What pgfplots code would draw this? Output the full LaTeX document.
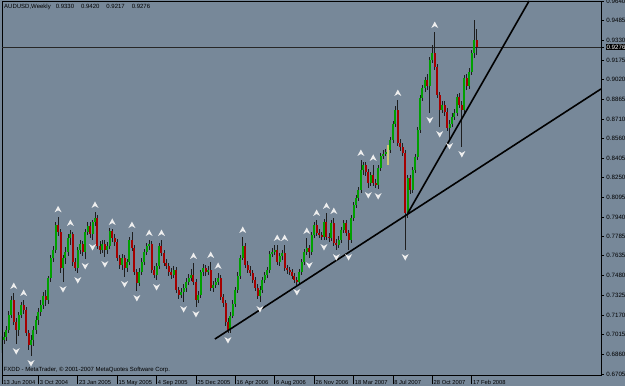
\documentclass[border=0pt]{standalone}
\usepackage{pgfplots}
\usepackage{pgfplotstable}
\pgfplotsset{compat=1.18}
\usepackage{fontspec}
\setmainfont{Liberation Sans}
\definecolor{bg}{RGB}{119,136,153}
\definecolor{cgreen}{RGB}{0,160,0}
\definecolor{cred}{RGB}{165,0,0}
\definecolor{wick}{RGB}{30,30,30}
\definecolor{frac}{RGB}{238,238,238}
\definecolor{ylw}{RGB}{205,200,120}
\pgfdeclareplotmark{fup}{%
  \pgfpathmoveto{\pgfpoint{0bp}{3.5bp}}%
  \pgfpathlineto{\pgfpoint{3.5bp}{-3bp}}%
  \pgfpathlineto{\pgfpoint{0bp}{-1bp}}%
  \pgfpathlineto{\pgfpoint{-3.5bp}{-3bp}}%
  \pgfpathclose\pgfusepathqfill}
\pgfdeclareplotmark{fdown}{%
  \pgfpathmoveto{\pgfpoint{0bp}{-3.5bp}}%
  \pgfpathlineto{\pgfpoint{3.5bp}{3bp}}%
  \pgfpathlineto{\pgfpoint{0bp}{1bp}}%
  \pgfpathlineto{\pgfpoint{-3.5bp}{3bp}}%
  \pgfpathclose\pgfusepathqfill}
\pgfplotstableread{
i o h l c
1 0.6893 0.7004 0.6870 0.6972
2 0.6972 0.7035 0.6941 0.6996
3 0.6996 0.7082 0.6964 0.7051
4 0.7051 0.7200 0.7027 0.7169
5 0.7169 0.7318 0.7145 0.7287
6 0.7287 0.7342 0.7090 0.7114
7 0.7114 0.7145 0.6941 0.7051
8 0.7051 0.7192 0.7004 0.7169
9 0.7169 0.7271 0.7145 0.7248
10 0.7248 0.7287 0.7177 0.7208
11 0.7208 0.7232 0.7004 0.7027
12 0.7027 0.7051 0.6893 0.6933
13 0.6933 0.7011 0.6846 0.6972
14 0.6972 0.7082 0.6925 0.7051
15 0.7051 0.7161 0.7019 0.7130
16 0.7130 0.7224 0.7090 0.7192
17 0.7192 0.7287 0.7161 0.7248
18 0.7248 0.7350 0.7216 0.7318
19 0.7318 0.7366 0.7240 0.7287
20 0.7287 0.7476 0.7255 0.7460
21 0.7460 0.7641 0.7429 0.7617
22 0.7617 0.7712 0.7586 0.7680
23 0.7680 0.7901 0.7657 0.7877
24 0.7877 0.7940 0.7791 0.7822
25 0.7822 0.7846 0.7499 0.7539
26 0.7539 0.7641 0.7429 0.7617
27 0.7617 0.7704 0.7570 0.7665
28 0.7665 0.7806 0.7633 0.7775
29 0.7775 0.7838 0.7720 0.7806
30 0.7806 0.7822 0.7555 0.7586
31 0.7586 0.7617 0.7515 0.7539
32 0.7539 0.7704 0.7499 0.7680
33 0.7680 0.7759 0.7649 0.7728
34 0.7728 0.7751 0.7633 0.7665
35 0.7665 0.7846 0.7610 0.7822
36 0.7822 0.7901 0.7798 0.7869
37 0.7869 0.7901 0.7775 0.7806
38 0.7806 0.7917 0.7759 0.7901
39 0.7901 0.7980 0.7869 0.7932
40 0.7932 0.7956 0.7688 0.7712
41 0.7712 0.7751 0.7649 0.7680
42 0.7680 0.7759 0.7657 0.7728
43 0.7728 0.7759 0.7625 0.7680
44 0.7680 0.7743 0.7649 0.7712
45 0.7712 0.7854 0.7688 0.7830
46 0.7830 0.7846 0.7743 0.7775
47 0.7775 0.7806 0.7712 0.7743
48 0.7743 0.7767 0.7594 0.7617
49 0.7617 0.7641 0.7531 0.7562
50 0.7562 0.7649 0.7523 0.7617
51 0.7617 0.7641 0.7468 0.7539
52 0.7539 0.7610 0.7507 0.7586
53 0.7586 0.7783 0.7562 0.7759
54 0.7759 0.7822 0.7673 0.7696
55 0.7696 0.7720 0.7484 0.7507
56 0.7507 0.7531 0.7358 0.7421
57 0.7421 0.7539 0.7397 0.7507
58 0.7507 0.7617 0.7484 0.7586
59 0.7586 0.7688 0.7562 0.7665
60 0.7665 0.7736 0.7641 0.7712
61 0.7712 0.7759 0.7680 0.7728
62 0.7728 0.7751 0.7499 0.7523
63 0.7523 0.7554 0.7460 0.7484
64 0.7484 0.7578 0.7444 0.7554
65 0.7554 0.7736 0.7531 0.7712
66 0.7712 0.7759 0.7633 0.7657
67 0.7657 0.7680 0.7554 0.7578
68 0.7578 0.7610 0.7531 0.7554
69 0.7554 0.7578 0.7476 0.7507
70 0.7507 0.7539 0.7452 0.7484
71 0.7484 0.7554 0.7460 0.7523
72 0.7523 0.7547 0.7342 0.7366
73 0.7366 0.7389 0.7295 0.7326
74 0.7326 0.7381 0.7303 0.7350
75 0.7350 0.7413 0.7271 0.7381
76 0.7381 0.7460 0.7350 0.7429
77 0.7429 0.7492 0.7405 0.7460
78 0.7460 0.7531 0.7436 0.7484
79 0.7484 0.7578 0.7405 0.7429
80 0.7429 0.7452 0.7232 0.7287
81 0.7287 0.7358 0.7263 0.7326
82 0.7326 0.7523 0.7303 0.7507
83 0.7507 0.7570 0.7476 0.7539
84 0.7539 0.7562 0.7476 0.7507
85 0.7507 0.7554 0.7484 0.7523
86 0.7523 0.7586 0.7358 0.7381
87 0.7381 0.7436 0.7350 0.7405
88 0.7405 0.7460 0.7381 0.7429
89 0.7429 0.7499 0.7405 0.7460
90 0.7460 0.7484 0.7287 0.7311
91 0.7311 0.7334 0.7232 0.7263
92 0.7263 0.7287 0.7082 0.7114
93 0.7114 0.7145 0.7027 0.7051
94 0.7051 0.7192 0.7027 0.7161
95 0.7161 0.7287 0.7145 0.7255
96 0.7255 0.7389 0.7232 0.7366
97 0.7366 0.7507 0.7342 0.7476
98 0.7476 0.7641 0.7452 0.7617
99 0.7617 0.7783 0.7602 0.7712
100 0.7712 0.7736 0.7539 0.7562
101 0.7562 0.7594 0.7499 0.7523
102 0.7523 0.7554 0.7476 0.7499
103 0.7499 0.7523 0.7421 0.7444
104 0.7444 0.7468 0.7358 0.7381
105 0.7381 0.7413 0.7295 0.7318
106 0.7318 0.7397 0.7271 0.7366
107 0.7366 0.7468 0.7342 0.7444
108 0.7444 0.7507 0.7421 0.7484
109 0.7484 0.7547 0.7460 0.7523
110 0.7523 0.7673 0.7499 0.7649
111 0.7649 0.7696 0.7625 0.7665
112 0.7665 0.7720 0.7641 0.7680
113 0.7680 0.7720 0.7562 0.7586
114 0.7586 0.7657 0.7555 0.7633
115 0.7633 0.7680 0.7602 0.7657
116 0.7657 0.7720 0.7515 0.7539
117 0.7539 0.7562 0.7492 0.7523
118 0.7523 0.7547 0.7484 0.7507
119 0.7507 0.7531 0.7452 0.7476
120 0.7476 0.7499 0.7421 0.7444
121 0.7444 0.7468 0.7405 0.7429
122 0.7429 0.7531 0.7413 0.7507
123 0.7507 0.7610 0.7484 0.7586
124 0.7586 0.7688 0.7562 0.7665
125 0.7665 0.7775 0.7641 0.7696
126 0.7696 0.7720 0.7617 0.7665
127 0.7665 0.7822 0.7641 0.7798
128 0.7798 0.7901 0.7775 0.7877
129 0.7877 0.7917 0.7791 0.7814
130 0.7814 0.7846 0.7775 0.7798
131 0.7798 0.7822 0.7759 0.7783
132 0.7783 0.7924 0.7759 0.7901
133 0.7901 0.7972 0.7759 0.7783
134 0.7783 0.7814 0.7743 0.7775
135 0.7775 0.7917 0.7751 0.7893
136 0.7893 0.7932 0.7712 0.7736
137 0.7736 0.7767 0.7680 0.7720
138 0.7720 0.7791 0.7696 0.7759
139 0.7759 0.7861 0.7736 0.7838
140 0.7838 0.7917 0.7814 0.7893
141 0.7893 0.7917 0.7791 0.7814
142 0.7814 0.7838 0.7680 0.7759
143 0.7759 0.7956 0.7736 0.7932
144 0.7932 0.8058 0.7909 0.8035
145 0.8035 0.8113 0.8011 0.8090
146 0.8090 0.8176 0.8066 0.8152
147 0.8152 0.8389 0.8129 0.8310
148 0.8310 0.8373 0.8271 0.8349
149 0.8349 0.8373 0.8263 0.8294
150 0.8294 0.8318 0.8168 0.8208
151 0.8208 0.8294 0.8184 0.8271
152 0.8271 0.8349 0.8184 0.8208
153 0.8208 0.8239 0.8168 0.8192
154 0.8192 0.8349 0.8160 0.8326
155 0.8326 0.8444 0.8302 0.8420
156 0.8420 0.8467 0.8397 0.8436
157 0.8436 0.8475 0.8420 0.8452
158 0.8452 0.8507 0.8349 0.8467
159 0.8467 0.8570 0.8444 0.8546
160 0.8546 0.8696 0.8523 0.8672
161 0.8672 0.8814 0.8648 0.8782
162 0.8782 0.8861 0.8499 0.8523
163 0.8523 0.8554 0.8460 0.8491
164 0.8491 0.8523 0.8420 0.8444
165 0.8444 0.8467 0.7680 0.7972
166 0.7972 0.8271 0.7932 0.8247
167 0.8247 0.8271 0.8121 0.8152
168 0.8152 0.8334 0.8129 0.8310
169 0.8310 0.8436 0.8286 0.8412
170 0.8412 0.8648 0.8389 0.8625
171 0.8625 0.8900 0.8601 0.8877
172 0.8877 0.8979 0.8853 0.8955
173 0.8955 0.9042 0.8924 0.9018
174 0.9018 0.9066 0.8940 0.8971
175 0.8971 0.9199 0.8759 0.9176
176 0.9176 0.9294 0.9152 0.9231
177 0.9231 0.9396 0.9097 0.9121
178 0.9121 0.9144 0.8877 0.8900
179 0.8900 0.8924 0.8648 0.8782
180 0.8782 0.8853 0.8759 0.8822
181 0.8822 0.8853 0.8735 0.8767
182 0.8767 0.8798 0.8617 0.8641
183 0.8641 0.8704 0.8554 0.8672
184 0.8672 0.8759 0.8648 0.8727
185 0.8727 0.8790 0.8704 0.8759
186 0.8759 0.8908 0.8735 0.8885
187 0.8885 0.8916 0.8798 0.8822
188 0.8822 0.8853 0.8491 0.8782
189 0.8782 0.9058 0.8759 0.9034
190 0.9034 0.9066 0.8940 0.8971
191 0.8971 0.9113 0.8948 0.9081
192 0.9081 0.9254 0.9058 0.9231
193 0.9231 0.9490 0.9191 0.9330
194 0.9330 0.9420 0.9217 0.9276
}\candles
\begin{document}
\begin{tikzpicture}
\fill[bg, use as bounding box] (0,0) rectangle (625bp,386bp);
\begin{axis}[
  at={(2bp,11bp)}, anchor=south west,
  scale only axis, width=599bp, height=374bp,
  xmin=1.22, xmax=244.52, ymin=0.6697, ymax=0.9640,
  axis line style={black, line width=0.8bp},
  clip=true,
  /pgf/number format/assume math mode=true,
  /pgf/number format/fixed,
  /pgf/number format/fixed zerofill,
  /pgf/number format/precision=4,
  tick label style={font=\fontsize{6.2bp}{7bp}\selectfont, black},
  xtick={1.22,16,32,48,64,80,96,112,128,144,160,176,192},
  xticklabels={13 Jun 2004,3 Oct 2004,23 Jan 2005,15 May 2005,4 Sep 2005,25 Dec 2005,16 Apr 2006,6 Aug 2006,26 Nov 2006,18 Mar 2007,8 Jul 2007,28 Oct 2007,17 Feb 2008},
  xtick pos=bottom, xtick align=outside,
  xtick style={black, line width=0.6bp, /pgfplots/major tick length=9bp},
  xticklabel style={anchor=north west, inner sep=0pt, xshift=1.2bp, yshift=-0.5bp, font=\fontsize{5.8bp}{7bp}\selectfont},
  ytick={0.6705,0.6860,0.7015,0.7170,0.7325,0.7480,0.7635,0.7785,0.7940,0.8095,0.8250,0.8405,0.8560,0.8710,0.8865,0.9020,0.9175,0.9330,0.9485,0.9640},
  ytick pos=right, yticklabel pos=right, ytick align=outside,
  ytick style={black, line width=0.6bp, /pgfplots/major tick length=3bp},
  scaled y ticks=false,
  yticklabel style={anchor=west, inner sep=0pt, xshift=1bp},
  extra y ticks={0.9276},
  extra y tick style={yticklabel style={fill=black, text=white, inner sep=0.6bp, xshift=-0.5bp}},
]
% bid line
\addplot[color=black!85, line width=0.7bp, forget plot] coordinates {(1.22,0.9276) (244.52,0.9276)};
% wicks
\addplot[draw=none, mark=none, forget plot, error bars/.cd, y dir=both, y explicit, error mark=none,
  error bar style={line width=0.8bp, draw=wick}]
  table[x=i, y expr=(\thisrow{h}+\thisrow{l})/2, y error expr=(\thisrow{h}-\thisrow{l})/2] {\candles};
% bull bodies
\addplot[draw=none, mark=none, forget plot, restrict expr to domain={\thisrow{c}-\thisrow{o}}{0:1},
  error bars/.cd, y dir=both, y explicit, error mark=none,
  error bar style={line width=2bp, draw=cgreen}]
  table[x=i, y expr=(\thisrow{o}+\thisrow{c})/2, y error expr=(\thisrow{c}-\thisrow{o})/2] {\candles};
% bear bodies
\addplot[draw=none, mark=none, forget plot, restrict expr to domain={\thisrow{c}-\thisrow{o}}{-1:0},
  error bars/.cd, y dir=both, y explicit, error mark=none,
  error bar style={line width=2bp, draw=cred}]
  table[x=i, y expr=(\thisrow{o}+\thisrow{c})/2, y error expr=(\thisrow{o}-\thisrow{c})/2] {\candles};
% highlighted bar
\addplot[draw=none, mark=none, forget plot, error bars/.cd, y dir=both, y explicit, error mark=none,
  error bar style={line width=1.6bp, draw=ylw}]
  coordinates {(158,0.8428) +- (0,0.0079)};
% trend lines
\addplot[black, line width=1.6bp, forget plot] coordinates {(87.7,0.6980) (244.52,0.8948)};
\addplot[black, line width=1.6bp, forget plot] coordinates {(166.1,0.7972) (215.3,0.9640)};
% fractals
\addplot[only marks, mark=fup, mark options={fill=frac, draw=none}, forget plot] coordinates {
(6,0.7397) (10,0.7342) (24,0.8001) (29,0.7893) (39,0.8035) (46,0.7901) (54,0.7877) (61,0.7814) (66,0.7814) (79,0.7633) (86,0.7641) (89,0.7555) (99,0.7838) (113,0.7775) (116,0.7775) (125,0.7830) (129,0.7972) (133,0.8027) (136,0.7987) (147,0.8444) (152,0.8405) (162,0.8916) (177,0.9451)};
\addplot[only marks, mark=fdown, mark options={fill=frac, draw=none}, forget plot] coordinates {
(7,0.6885) (13,0.6791) (26,0.7373) (32,0.7444) (35,0.7555) (38,0.7704) (43,0.7570) (51,0.7413) (56,0.7303) (64,0.7389) (75,0.7216) (80,0.7177) (93,0.6972) (106,0.7216) (121,0.7350) (126,0.7562) (132,0.7704) (137,0.7625) (142,0.7625) (150,0.8113) (154,0.8105) (165,0.7625) (175,0.8704) (179,0.8593) (183,0.8499) (188,0.8436)};
% texts
\node[anchor=north west, inner sep=0pt, xshift=2bp, yshift=-3bp, font=\fontsize{6bp}{7bp}\selectfont] at (rel axis cs:0,1)
  {AUDUSD,Weekly\hspace{5bp}0.9330\hspace{7bp}0.9420\hspace{7bp}0.9217\hspace{7bp}0.9276};
\node[anchor=south west, inner sep=0pt, xshift=1.5bp, yshift=2.5bp, font=\fontsize{6bp}{7bp}\selectfont] at (rel axis cs:0,0)
  {FXDD - MetaTrader, © 2001-2007 MetaQuotes Software Corp.};
\end{axis}
\end{tikzpicture}
\end{document}
